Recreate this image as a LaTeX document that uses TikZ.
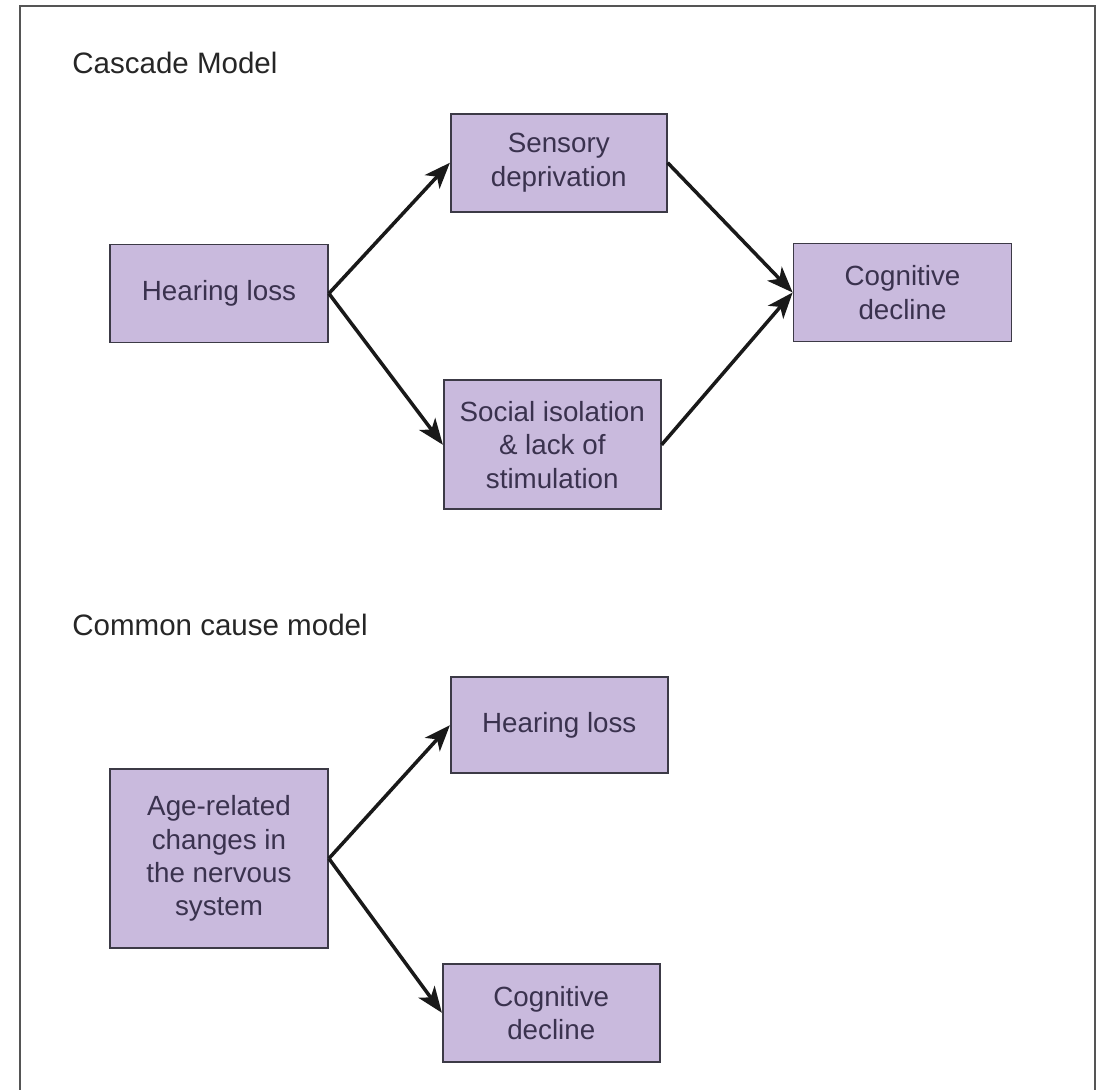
\documentclass[tikz,border=0pt]{standalone}
\usepackage{fontspec}
\setmainfont{Liberation Sans}
\usetikzlibrary{positioning,arrows.meta}
\definecolor{boxfill}{RGB}{201,186,221}
\definecolor{boxline}{RGB}{60,58,70}
\definecolor{boxtext}{RGB}{58,50,78}
\definecolor{frameline}{RGB}{85,85,85}

\begin{document}
\begin{tikzpicture}[
  box/.style={draw=boxline, line width=1pt, fill=boxfill, text=boxtext, minimum width=4.36cm, minimum height=1.96cm, inner sep=0pt, align=center, font=\fontsize{15.8}{19}\selectfont},
  link/.style={-{Stealth[length=0.52cm,width=0.4cm,inset=0.14cm]}, line width=2pt, black!90},
  heading/.style={anchor=base west, inner sep=0pt, text=black!85, font=\fontsize{16.8}{20}\selectfont}
]
 \useasboundingbox (0,0) rectangle (22.32,-21.78);

 %Frame
 \draw[frameline, line width=1.1pt] (0.4,-21.9) -- (0.4,-0.12) -- (21.9,-0.12) -- (21.9,-21.9);

 %Coordinates
 \coordinate (cascadecoordinate) at (4.38,-5.87);
 \coordinate (commoncoordinate) at (4.38,-17.17);

 %Name
 \node (cascade) [heading] at (1.44,-1.46) {Cascade Model};
 \node (common) [heading] at (1.44,-12.7) {Common cause model};

 %Cascade model
 \node (hearing) [box] at (cascadecoordinate) {Hearing loss};
 \node (sensory) [box, minimum width=4.32cm, above right=0.62cm and 2.42cm of hearing] {Sensory\\deprivation};
 \node (social) [box, minimum width=4.34cm, minimum height=2.58cm, below right=0.72cm and 2.28cm of hearing] {Social isolation\\\& lack of\\stimulation};
 \node (decline) [box, below right=0.6cm and 2.5cm of sensory] {Cognitive\\decline};

 %Common cause model
 \node (age) [box, minimum height=3.58cm] at (commoncoordinate) {Age-related\\changes in\\the nervous\\system};
 \node (hearingtwo) [box, minimum width=4.34cm, minimum height=1.92cm, above right=-0.12cm and 2.42cm of age] {Hearing loss};
 \node (declinetwo) [box, minimum width=4.34cm, below right=0.28cm and 2.26cm of age] {Cognitive\\decline};

 %Arrows
 \draw[link] (hearing.east) -- (sensory.west);
 \draw[link] (hearing.east) -- (social.west);
 \draw[link] (sensory.east) -- (decline.west);
 \draw[link] (social.east) -- (decline.west);
 \draw[link] (age.east) -- (hearingtwo.west);
 \draw[link] (age.east) -- (declinetwo.west);

\end{tikzpicture}
\end{document}
